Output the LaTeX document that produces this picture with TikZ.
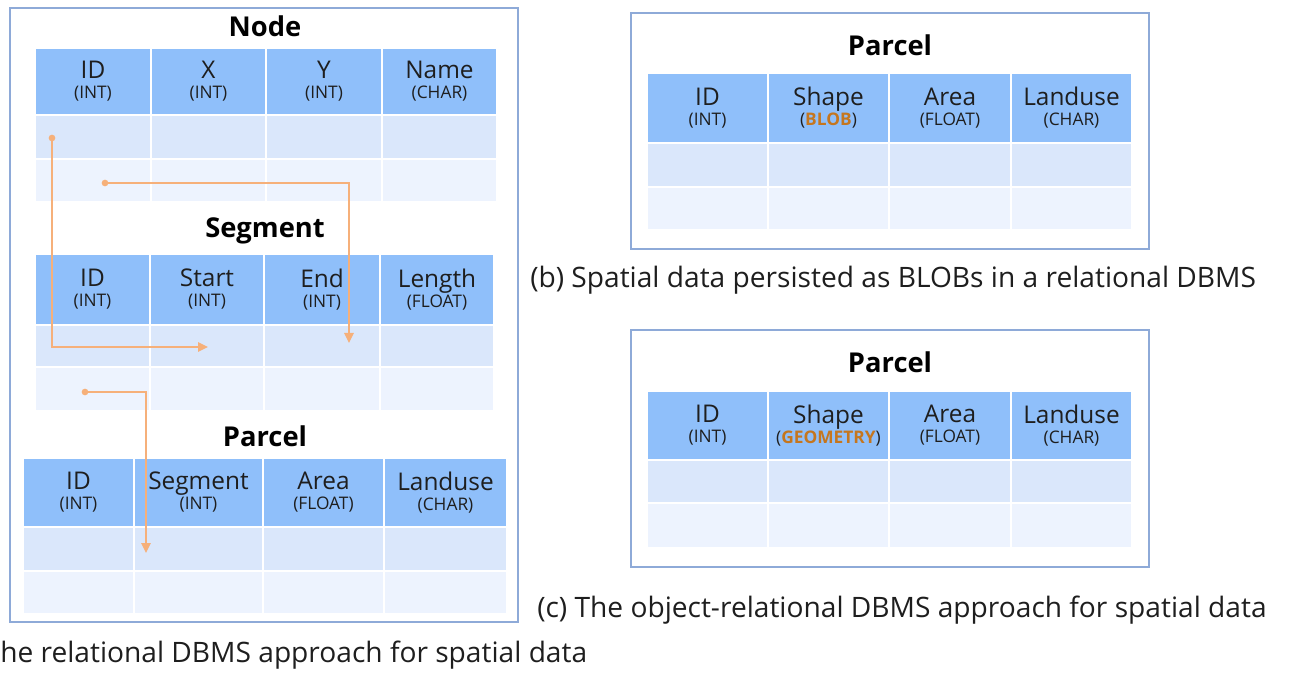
\documentclass[tikz,border=0pt]{standalone}
\usepackage{fontspec}
\setmainfont{Open Sans}
\usetikzlibrary{arrows.meta}

\definecolor{hdrblue}{HTML}{8FBFFA}
\definecolor{rowa}{HTML}{DAE7FB}
\definecolor{rowb}{HTML}{EDF3FE}
\definecolor{framec}{HTML}{8EAAD8}
\definecolor{linkc}{HTML}{F6B07A}
\definecolor{blobc}{HTML}{C5761E}
\definecolor{txtc}{HTML}{1E1E1E}

\newcommand\fieldfont{\fontsize{18.3pt}{15pt}\selectfont}
\newcommand\typefont{\fontsize{13pt}{14pt}\selectfont}
\newcommand\titlefont{\fontsize{20.5pt}{22pt}\selectfont\bfseries}
\newcommand\capfont{\fontsize{21.1pt}{24pt}\selectfont}
\newcommand\blob[1]{\textcolor{blobc}{\bfseries #1}}

\tikzset{
  cell/.style={draw=white, line width=0.9pt, inner sep=0pt, outer sep=0pt},
  hcell/.style={cell, fill=hdrblue, text=txtc, align=center, font=\fieldfont},
  acell/.style={cell, fill=rowa},
  bcell/.style={cell, fill=rowb},
  frame/.style={draw=framec, line width=1.7pt, fill=white},
  tabtitle/.style={font=\titlefont, text=black, inner sep=0pt},
  caption/.style={font=\capfont, text=txtc, anchor=west, inner sep=0pt},
  link/.style={draw=linkc, line width=1.6pt, -{Triangle[width=7pt,length=7.5pt]}},
  linkdot/.style={circle, fill=linkc, inner sep=0pt, minimum size=5pt}
}

% #1 name, #2 top, #3 header bottom, #4 first row bottom, #5 second row bottom
% columns come from \tabcols as index/left/right/field/type
\newcommand\dbtable[5]{%
  \foreach \c/\xa/\xb/\nm/\ty in \tabcols {%
    \pgfmathsetmacro\cmid{(\xa+\xb)/2}%
    \pgfmathsetmacro\cwid{(\xb-\xa)*0.75}%
    \pgfmathsetmacro\chh{(#3-#2)*0.75}%
    \pgfmathsetmacro\cha{(#4-#3)*0.75}%
    \pgfmathsetmacro\chb{(#5-#4)*0.75}%
    \node[hcell, minimum width=\cwid pt, minimum height=\chh pt] (#1-h\c)
      at (\cmid,{(#2+#3)/2}) {\nm\\[0pt]{\typefont(\ty)}};
    \node[acell, minimum width=\cwid pt, minimum height=\cha pt] (#1-a\c)
      at (\cmid,{(#3+#4)/2}) {};
    \node[bcell, minimum width=\cwid pt, minimum height=\chb pt] (#1-b\c)
      at (\cmid,{(#4+#5)/2}) {};
  }%
}

\begin{document}
\begin{tikzpicture}[x=0.75pt, y=-0.75pt]
  \useasboundingbox (0,0) rectangle (1292,673);

  % ---- (a) relational schema with foreign keys
  \draw[frame] (10,8) rectangle (518,622);

  \node[tabtitle] (ttnode) at (265,26) {Node};
  \def\tabcols{1/35/151/ID/INT, 2/151/266/X/INT, 3/266/382/Y/INT, 4/382/497/Name/CHAR}
  \dbtable{node}{48}{115}{159}{202}

  \node[tabtitle] (ttseg) at (265,231) {Segment};
  \def\tabcols{1/35/150/ID/INT, 2/150/264/Start/INT, 3/264/380/End/INT, 4/380/494/Length/FLOAT}
  \dbtable{seg}{254}{325}{367}{411}

  \node[tabtitle] (ttparl) at (265,436) {Parcel};
  \def\tabcols{1/23/134/ID/INT, 2/134/263/Segment/INT, 3/263/384/Area/FLOAT, 4/384/507/Landuse/CHAR}
  \dbtable{parl}{458}{527}{571}{614}

  % foreign key links
  \coordinate (k1s) at (52,138);
  \coordinate (k1t) at (208,347);
  \coordinate (k2s) at (105,183);
  \coordinate (k2t) at (349,343);
  \coordinate (k3s) at (85,392);
  \coordinate (k3t) at (146,553);
  \node[linkdot] (d1) at (k1s) {};
  \node[linkdot] (d2) at (k2s) {};
  \node[linkdot] (d3) at (k3s) {};
  \draw[link] (d1.center) |- (k1t);
  \draw[link] (d2.center) -| (k2t);
  \draw[link] (d3.center) -| (k3t);

  \node[caption] (capa) at (0,655) {he relational DBMS approach for spatial data};

  % ---- (b) BLOB column
  \draw[frame] (631,13) rectangle (1149,249);
  \node[tabtitle] (ttparb) at (890,45) {Parcel};
  \def\tabcols{1/647/768/ID/INT, 2/768/889/Shape/\blob{BLOB}, 3/889/1011/Area/FLOAT, 4/1011/1132/Landuse/CHAR}
  \dbtable{parb}{73}{143}{187}{230}
  \node[caption] (capb) at (530,280) {(b) Spatial data persisted as BLOBs in a relational DBMS};

  % ---- (c) GEOMETRY column
  \draw[frame] (631,330) rectangle (1149,567);
  \node[tabtitle] (ttparc) at (890,362) {Parcel};
  \def\tabcols{1/647/768/ID/INT, 2/768/889/Shape/\blob{GEOMETRY}, 3/889/1011/Area/FLOAT, 4/1011/1132/Landuse/CHAR}
  \dbtable{parc}{391}{460}{503}{548}
  \node[caption] (capc) at (537,610) {(c) The object-relational DBMS approach for spatial data};
\end{tikzpicture}
\end{document}
